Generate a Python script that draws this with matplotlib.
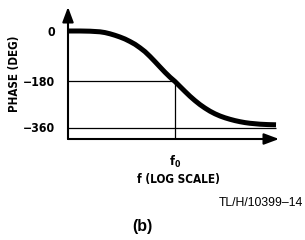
import numpy as np
import matplotlib
matplotlib.use("Agg")
import matplotlib.pyplot as plt

# ---- data ----
freq = [0.01, 0.0168, 0.0258, 0.0397, 0.0493, 0.061, 0.0755, 0.0935, 0.116, 0.144,
        0.179, 0.222, 0.275, 0.341, 0.423, 0.524, 0.65, 0.807, 1.0, 1.24, 1.54,
        1.91, 2.36, 2.93, 3.64, 4.51, 5.59, 6.94, 8.6, 10.66, 13.2, 16.4, 20.3,
        25.2, 38.8, 54.7, 77.3]
phase = [0, 0, -0.7, -2.9, -5.7, -10.0, -15.3, -21.4, -28.5, -37.4,
         -47.4, -59.9, -73.7, -90.8, -109.3, -128.3, -147.1, -164.6, -180, -199.6, -219.1,
         -237.9, -254.7, -270.4, -284.1, -296.2, -306.4, -315.0, -322.0, -327.9, -333.0,
         -337.3, -340.8, -343.5, -347.1, -348.6, -349.4]
f0 = 1.0
ytick_vals = [0, -180, -360]
ytick_labels = ["0", "\u2212180", "\u2212360"]
xtick_labels = ["f$_0$"]

COND = dict(family=["DejaVu Sans"], fontstretch="condensed", fontweight="bold")
plt.rcParams["mathtext.fontset"] = "custom"
for k in ("rm", "it", "bf"):
    plt.rcParams["mathtext." + k] = "DejaVu Sans:weight=bold:stretch=condensed"

W, H = 305, 240
fig = plt.figure(figsize=(W / 100, H / 100), dpi=100)
x0, x1, ytop, ybot = 68, 279, 7, 139
ax = fig.add_axes([x0 / W, (H - ybot) / H, (x1 - x0) / W, (ybot - ytop) / H])

# schematic (non-uniform) phase axis
ph_k = np.array([1000.0, 85.5, 0, -180, -360, -405, -2000.0])
px_k = np.array([7 - (1000 - 85.5) * 24 / 85.5, 7, 31, 81.5, 127.5, 139,
                 139 + (2000 - 405) * 46 / 180])

def fwd(y):
    return -np.interp(-np.asarray(y, float), -ph_k, px_k)

def inv(v):
    return -np.interp(-np.asarray(v, float), px_k, -ph_k)

ax.set_xscale("log")
ax.set_yscale("function", functions=(fwd, inv))
ax.set_xlim(0.01, 10 ** (2 * 104 / 107))
ax.set_ylim(-405, 85.5)

# reference lines
ax.plot([freq[0], f0], [-180, -180], color="black", lw=0.9, solid_capstyle="butt")
ax.plot([f0, f0], [-180, -405], color="black", lw=0.9, solid_capstyle="butt")
ax.plot([freq[0], freq[-1]], [-360, -360], color="black", lw=0.9, solid_capstyle="butt")

# phase curve
ax.plot(freq, phase, color="black", lw=3.6, solid_capstyle="butt", solid_joinstyle="round")

for s in ax.spines.values():
    s.set_visible(False)
arrow = dict(arrowstyle="-|>,head_length=0.75,head_width=0.28", lw=1.5, color="black",
             shrinkA=0, shrinkB=0, mutation_scale=12)
ax.annotate("", xy=(0, 1), xytext=(0, 0), xycoords="axes fraction", arrowprops=arrow)
ax.annotate("", xy=(1, 0), xytext=(0, 0), xycoords="axes fraction", arrowprops=arrow)

ax.set_yticks(ytick_vals)
ax.set_yticklabels(ytick_labels, fontsize=8.8, **COND)
ax.set_xticks([f0])
ax.set_xticklabels(xtick_labels, fontsize=9, **COND)
ax.minorticks_off()
ax.xaxis.set_minor_locator(matplotlib.ticker.NullLocator())
ax.tick_params(axis="both", length=0)
ax.tick_params(axis="y", pad=9)
ax.tick_params(axis="x", pad=11)

fig.text(15 / W, 1 - 74 / H, "PHASE (DEG)", rotation=90, ha="center", va="center",
         fontsize=8.3, **COND)
fig.text(178 / W, 1 - 179 / H, "f (LOG SCALE)", ha="center", va="center",
         fontsize=8.5, **COND)
fig.text(303 / W, 1 - 203 / H, "TL/H/10399\u201314", ha="right", va="center",
         family=["Liberation Sans", "DejaVu Sans"], fontsize=8.8)
fig.text(142 / W, 1 - 226 / H, "(b)", ha="center", va="center",
         family=["Liberation Sans", "DejaVu Sans"], fontweight="bold", fontsize=11.5)

fig.savefig("out.png", dpi=100)
